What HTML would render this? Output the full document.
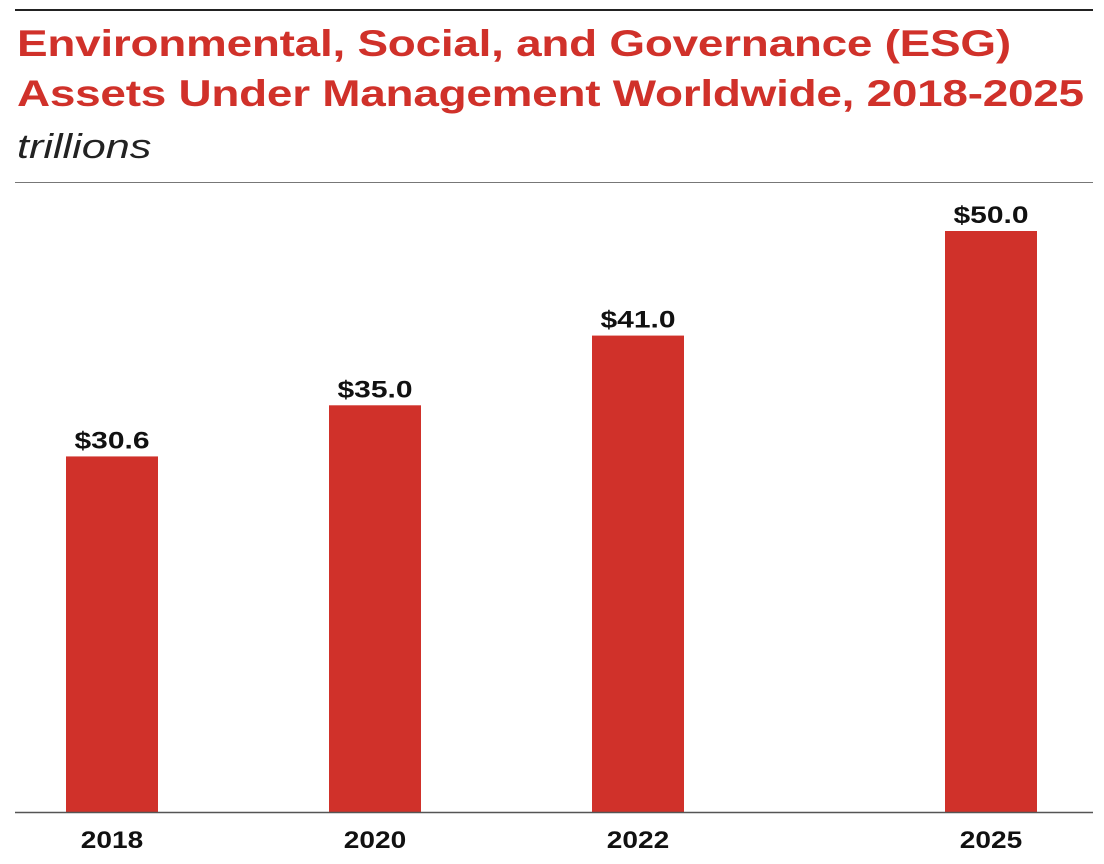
<!DOCTYPE html>
<html><head><meta charset="utf-8"><style>
html,body{margin:0;padding:0;background:#fff;width:1104px;height:864px;overflow:hidden;font-family:"Liberation Sans",sans-serif}
.t{position:absolute;left:17px;color:#d0312a;font-weight:bold;font-size:37px;letter-spacing:-0.2px;line-height:50px;transform-origin:0 0;transform:scaleX(1.24);white-space:nowrap}
</style></head><body>
<div style="position:absolute;left:15px;top:9px;width:1078px;height:2px;background:#222"></div>
<div class="t" style="top:19px">Environmental, Social, and Governance (ESG)<br>Assets Under Management Worldwide, 2018-2025</div>
<div style="position:absolute;left:17px;top:128px;font-size:34px;font-style:italic;color:#222;transform-origin:0 0;transform:scaleX(1.27)">trillions</div>
<div style="position:absolute;left:15px;top:182px;width:1078px;height:1px;background:#777"></div>
<svg id="chart" width="1104" height="864" style="position:absolute;left:0;top:0"></svg>
<script>
const categories = ["2018","2020","2022","2025"];
const values = [30.6,35.0,41.0,50.0];
const valueLabels = ["$30.6","$35.0","$41.0","$50.0"];
const NS="http://www.w3.org/2000/svg";
const svg=document.getElementById('chart');
const baseY=812, pxPerUnit=581/50, barW=92;
function y(v){return baseY-v*pxPerUnit;}
function x(i){return 112+i*263+(i===3?90:0);}
function txt(name,cx,cy,s,sx){
  const t=document.createElementNS(NS,'text');
  
  
  t.setAttribute('x',0);t.setAttribute('y',0);
  t.setAttribute('transform','translate('+cx+','+cy+') scale('+sx+',1)');
  t.setAttribute('text-anchor','middle');t.setAttribute('font-size','24');t.setAttribute('font-weight','bold');
  t.setAttribute('font-family','Liberation Sans, sans-serif');t.setAttribute('fill','#111');
  t.textContent=s;svg.appendChild(t);
}
categories.forEach((c,i)=>{
  const r=document.createElementNS(NS,'rect');
  
  
  r.setAttribute('x',x(i)-barW/2);r.setAttribute('y',y(values[i]));
  r.setAttribute('width',barW);r.setAttribute('height',baseY-y(values[i]));
  r.setAttribute('fill','#d0312a');svg.appendChild(r);
  txt('value-label-'+c,x(i),y(values[i])-8,valueLabels[i],1.25);
  txt('x-label-'+c,x(i),848,c,1.17);
});
const ax=document.createElementNS(NS,'line');


ax.setAttribute('x1',15);ax.setAttribute('x2',1093);ax.setAttribute('y1',baseY+0.5);ax.setAttribute('y2',baseY+0.5);
ax.setAttribute('stroke','#555');ax.setAttribute('stroke-width','1.5');svg.appendChild(ax);
</script>
</body></html>
